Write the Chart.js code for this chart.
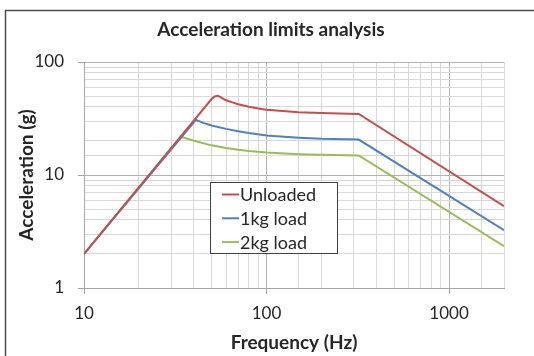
<!DOCTYPE html>
<html>
<head>
<meta charset="utf-8">
<script src="https://cdn.jsdelivr.net/npm/chart.js@4.4.1/dist/chart.umd.min.js"></script>
<style>
  html, body { margin: 0; padding: 0; background: #fff; overflow: hidden; }
  canvas { display: block; }
</style>
</head>
<body>
<canvas id="chart-aceleracao" width="534" height="356"></canvas>
<script>
// valores (Hz, g)
const seriesLabels = ['Unloaded', '1kg load', '2kg load'];
const seriesColors = ['#C0504D', '#4F81BD', '#9BBB59'];

const unloadedFreq  = [10, 50, 52, 54, 56, 58, 60, 65, 70, 80, 90, 100, 150, 200, 250, 320, 2000];
const unloadedAccel = [2, 47, 49.6, 50.3, 48.9, 47.2, 45.9, 43.9, 42.3, 40.1, 38.8, 37.8, 36, 35.3, 35, 34.7, 5.3];

const load1Freq  = [10, 41, 43, 45, 50, 60, 70, 80, 100, 150, 200, 320, 2000];
const load1Accel = [2, 30.8, 29.8, 28.9, 27.4, 25.6, 24.4, 23.5, 22.4, 21.4, 20.9, 20.6, 3.25];

const load2Freq  = [10, 34, 40, 50, 60, 70, 80, 100, 150, 200, 320, 2000];
const load2Accel = [2, 21.8, 20.1, 18.3, 17.3, 16.7, 16.3, 15.8, 15.3, 15.1, 14.9, 2.35];

const xMajorTicks = [10, 100, 1000];
const yMajorTicks = [1, 10, 100];

function toPoints(freq, accel) {
  return freq.map((f, i) => ({ x: f, y: accel[i] }));
}

const dataAceleracao = {
  datasets: [
    { label: seriesLabels[0], data: toPoints(unloadedFreq, unloadedAccel), borderColor: seriesColors[0] },
    { label: seriesLabels[1], data: toPoints(load1Freq, load1Accel), borderColor: seriesColors[1] },
    { label: seriesLabels[2], data: toPoints(load2Freq, load2Accel), borderColor: seriesColors[2] }
  ].map(ds => Object.assign(ds, {
    showLine: true,
    borderWidth: 2,
    pointRadius: 0,
    tension: 0,
    fill: false
  }))
};

// moldura externa (só aparecem os lados esquerdo e de cima)
const outerFrame = {
  id: 'outerFrame',
  beforeDraw(chart) {
    const ctx = chart.ctx;
    ctx.save();
    ctx.fillStyle = '#fff';
    ctx.fillRect(0, 0, chart.width, chart.height);
    ctx.strokeStyle = '#4d4d4d';
    ctx.lineWidth = 1.5;
    ctx.strokeRect(5.5, 10.5, 700, 500);
    ctx.restore();
  },
  afterLayout(chart) {
    // centraliza o título como no original
    chart.titleBlock.left = 38;
  }
};

// legenda com caixa dentro da área do gráfico
const legendBox = {
  id: 'legendBox',
  afterDatasetsDraw(chart) {
    const { ctx, chartArea } = chart;
    const x = Math.round(chartArea.left + 126), y = Math.round(chartArea.top + 120);
    const w = 127, h = 71;
    ctx.save();
    ctx.fillStyle = '#fff';
    ctx.fillRect(x, y, w, h);
    ctx.strokeStyle = '#404040';
    ctx.lineWidth = 1;
    ctx.strokeRect(x + 0.5, y + 0.5, w, h);
    ctx.font = '18px Lato';
    ctx.textBaseline = 'middle';
    chart.data.datasets.forEach((ds, i) => {
      const ly = y + 12.5 + i * 23.8;
      ctx.strokeStyle = ds.borderColor;
      ctx.lineWidth = 2;
      ctx.beginPath();
      ctx.moveTo(x + 12, ly);
      ctx.lineTo(x + 29, ly);
      ctx.stroke();
      ctx.fillStyle = '#262626';
      ctx.fillText(ds.label, x + 30, ly + 1);
    });
    ctx.restore();
  }
};

Chart.defaults.font.family = 'Lato';
Chart.defaults.color = '#262626';

const configAceleracao = {
  type: 'scatter',
  data: dataAceleracao,
  options: {
    responsive: false,
    animation: false,
    layout: { padding: { left: 0, right: 30, top: 0, bottom: 0 } },
    plugins: {
      legend: { display: false },
      tooltip: { enabled: false },
      title: {
        display: true,
        text: 'Acceleration limits analysis',
        font: { size: 19, weight: 'bold' },
        color: '#262626',
        padding: { top: 18.6, bottom: 20.6 }
      }
    },
    scales: {
      x: {
        type: 'logarithmic',
        min: 10,
        max: 2000,
        afterFit: scale => { scale.height = 68; },
        border: { display: true, color: '#a6a6a6', width: 1 },
        grid: {
          color: c => xMajorTicks.includes(c.tick && c.tick.value) ? '#b3b3b3' : '#d9d9d9',
          tickColor: c => xMajorTicks.includes(c.tick && c.tick.value) ? '#a6a6a6' : 'rgba(0,0,0,0)',
          tickLength: 6
        },
        ticks: {
          autoSkip: false,
          maxRotation: 0,
          padding: 9,
          font: { size: 17 },
          callback: value => xMajorTicks.includes(value) ? String(value) : ''
        },
        title: {
          display: true,
          text: 'Frequency (Hz)',
          font: { size: 19, weight: 'bold' },
          padding: { top: 0, bottom: 1.6 }
        }
      },
      y: {
        type: 'logarithmic',
        min: 1,
        max: 100,
        afterFit: scale => { scale.width = 84; },
        border: { display: true, color: '#a6a6a6', width: 1 },
        grid: {
          color: c => yMajorTicks.includes(c.tick && c.tick.value) ? '#b3b3b3' : '#d9d9d9',
          tickColor: c => yMajorTicks.includes(c.tick && c.tick.value) ? '#a6a6a6' : 'rgba(0,0,0,0)',
          tickLength: 6
        },
        ticks: {
          autoSkip: false,
          padding: 14,
          font: { size: 17 },
          callback: value => yMajorTicks.includes(value) ? String(value) : ''
        },
        title: {
          display: true,
          text: 'Acceleration (g)',
          font: { size: 19, weight: 'bold' },
          padding: { top: 15.6, bottom: 0 }
        }
      }
    }
  },
  plugins: [outerFrame, legendBox]
};

const myChartAceleracao = new Chart(
  document.getElementById('chart-aceleracao'),
  configAceleracao
);
</script>
</body>
</html>
